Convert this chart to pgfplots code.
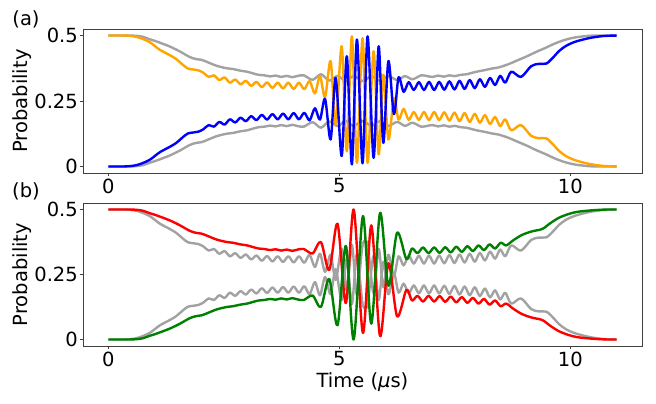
\documentclass[border=0pt]{standalone}
\usepackage{fontspec}
\setmainfont{DejaVu Sans}
\usepackage{pgfplots}
\usepackage{pgfplotstable}
\pgfplotsset{compat=1.18}
\definecolor{cgrey}{RGB}{162,162,162}
\definecolor{corange}{RGB}{255,165,0}
\definecolor{cblue}{RGB}{0,0,255}
\definecolor{cred}{RGB}{255,0,0}
\definecolor{cgreen}{RGB}{0,128,0}
% panel (a): blue B, orange O; grey curves of panel (b): GU, GL
\pgfplotstableread{
t B O GU GL
0.00 0.000 0.500 0.500 0.000
0.35 0.000 0.500 0.500 0.000
0.55 0.003 0.497 0.497 0.003
0.70 0.010 0.490 0.490 0.010
0.90 0.026 0.474 0.474 0.026
1.11 0.054 0.446 0.446 0.054
1.33 0.075 0.425 0.425 0.075
1.47 0.090 0.410 0.410 0.090
1.60 0.110 0.390 0.390 0.110
1.72 0.126 0.374 0.374 0.126
1.85 0.130 0.370 0.370 0.130
1.95 0.133 0.367 0.367 0.133
2.055 0.142 0.358 0.358 0.142
2.17 0.158 0.342 0.342 0.158
2.285 0.152 0.348 0.348 0.152
2.40 0.170 0.330 0.330 0.170
2.515 0.160 0.340 0.340 0.160
2.63 0.180 0.320 0.320 0.180
2.745 0.168 0.332 0.332 0.168
2.86 0.186 0.314 0.314 0.186
2.975 0.173 0.327 0.327 0.173
3.09 0.192 0.308 0.308 0.192
3.205 0.177 0.323 0.323 0.177
3.32 0.197 0.303 0.303 0.197
3.435 0.179 0.321 0.321 0.179
3.55 0.200 0.300 0.300 0.200
3.665 0.180 0.320 0.320 0.180
3.78 0.202 0.298 0.298 0.202
3.895 0.180 0.320 0.320 0.180
4.01 0.204 0.296 0.296 0.204
4.125 0.180 0.320 0.320 0.180
4.24 0.205 0.295 0.295 0.205
4.355 0.176 0.326 0.326 0.174
4.47 0.222 0.279 0.279 0.221
4.58 0.179 0.345 0.330 0.170
4.69 0.258 0.265 0.260 0.240
4.81 0.103 0.402 0.326 0.174
4.92 0.338 0.160 0.229 0.271
5.05 0.040 0.459 0.349 0.151
5.16 0.421 0.058 0.188 0.312
5.27 0.008 0.497 0.364 0.136
5.38 0.485 0.014 0.171 0.329
5.50 0.012 0.490 0.361 0.139
5.61 0.497 0.014 0.364 0.136
5.74 0.033 0.440 0.178 0.322
5.85 0.459 0.046 0.349 0.151
5.95 0.090 0.350 0.201 0.299
6.06 0.402 0.103 0.326 0.174
6.18 0.200 0.260 0.245 0.255
6.28 0.340 0.179 0.320 0.180
6.39 0.285 0.220 0.285 0.215
6.50 0.322 0.178 0.322 0.178
6.61 0.292 0.208 0.292 0.208
6.72 0.322 0.178 0.322 0.178
6.83 0.292 0.208 0.292 0.208
6.94 0.323 0.177 0.323 0.177
7.05 0.292 0.208 0.292 0.208
7.16 0.323 0.177 0.323 0.177
7.27 0.293 0.207 0.293 0.207
7.38 0.325 0.175 0.325 0.175
7.49 0.294 0.206 0.294 0.206
7.60 0.327 0.173 0.327 0.173
7.71 0.296 0.204 0.296 0.204
7.82 0.330 0.170 0.330 0.170
7.93 0.299 0.201 0.299 0.201
8.04 0.333 0.167 0.333 0.167
8.15 0.304 0.196 0.304 0.196
8.26 0.338 0.162 0.338 0.162
8.37 0.311 0.189 0.311 0.189
8.48 0.346 0.154 0.346 0.154
8.59 0.320 0.180 0.320 0.180
8.72 0.362 0.138 0.362 0.138
8.93 0.342 0.158 0.342 0.158
9.15 0.383 0.117 0.383 0.117
9.32 0.392 0.108 0.392 0.108
9.48 0.393 0.107 0.393 0.107
9.62 0.415 0.085 0.415 0.085
9.75 0.440 0.060 0.440 0.060
9.90 0.460 0.040 0.460 0.040
10.10 0.476 0.024 0.476 0.024
10.40 0.490 0.010 0.490 0.010
10.70 0.498 0.002 0.498 0.002
11.00 0.500 0.000 0.500 0.000
}\tabA
% panel (b): red R, green G
\pgfplotstableread{
t R G
0.00 0.500 0.000
0.40 0.500 0.000
0.60 0.499 0.001
0.75 0.495 0.005
0.89 0.486 0.014
1.00 0.480 0.020
1.11 0.473 0.027
1.33 0.458 0.042
1.55 0.439 0.061
1.76 0.418 0.082
1.90 0.410 0.090
2.02 0.407 0.093
2.15 0.398 0.102
2.35 0.384 0.116
2.56 0.375 0.125
2.70 0.372 0.128
2.85 0.366 0.134
3.00 0.362 0.138
3.12 0.356 0.144
3.25 0.350 0.150
3.38 0.348 0.152
3.50 0.344 0.156
3.62 0.347 0.153
3.74 0.342 0.158
3.86 0.346 0.154
3.98 0.341 0.159
4.10 0.346 0.154
4.23 0.348 0.152
4.42 0.331 0.169
4.60 0.375 0.125
4.78 0.267 0.233
4.96 0.445 0.055
5.14 0.140 0.360
5.31 0.500 0.000
5.51 0.025 0.475
5.69 0.439 0.061
5.88 0.013 0.487
6.06 0.293 0.207
6.25 0.089 0.411
6.45 0.191 0.309
6.57 0.150 0.350
6.69 0.168 0.332
6.81 0.146 0.354
6.93 0.168 0.332
7.05 0.146 0.354
7.17 0.167 0.333
7.29 0.145 0.355
7.41 0.165 0.335
7.53 0.143 0.357
7.65 0.163 0.337
7.77 0.141 0.359
7.89 0.160 0.340
8.01 0.138 0.362
8.13 0.156 0.344
8.25 0.134 0.366
8.37 0.150 0.350
8.49 0.128 0.372
8.61 0.138 0.362
8.75 0.120 0.380
8.95 0.098 0.402
9.17 0.084 0.416
9.39 0.075 0.425
9.57 0.052 0.448
9.75 0.032 0.468
9.95 0.018 0.482
10.15 0.009 0.491
10.48 0.003 0.497
10.80 0.000 0.500
11.00 0.000 0.500
}\tabB
% grey curves of panel (a)
\pgfplotstableread{
t U L
0.00 0.500 0.000
0.40 0.500 0.000
0.60 0.499 0.001
0.75 0.495 0.005
0.89 0.486 0.014
1.00 0.480 0.020
1.11 0.473 0.027
1.33 0.458 0.042
1.55 0.439 0.061
1.76 0.418 0.082
1.90 0.410 0.090
2.02 0.407 0.093
2.15 0.398 0.102
2.35 0.384 0.116
2.56 0.375 0.125
2.70 0.372 0.128
2.85 0.366 0.134
3.00 0.362 0.138
3.12 0.356 0.144
3.25 0.350 0.150
3.38 0.348 0.152
3.50 0.344 0.156
3.62 0.347 0.153
3.74 0.342 0.158
3.86 0.346 0.154
3.98 0.341 0.159
4.10 0.346 0.154
4.23 0.348 0.152
4.42 0.331 0.169
4.60 0.352 0.148
4.78 0.328 0.172
4.96 0.346 0.154
5.14 0.326 0.174
5.31 0.345 0.155
5.51 0.326 0.174
5.69 0.345 0.155
5.88 0.327 0.173
6.06 0.345 0.155
6.25 0.330 0.170
6.42 0.345 0.155
6.58 0.333 0.167
6.77 0.348 0.152
6.90 0.345 0.155
7.02 0.342 0.158
7.14 0.347 0.153
7.26 0.343 0.157
7.38 0.348 0.152
7.50 0.345 0.155
7.62 0.350 0.150
7.75 0.352 0.148
7.88 0.358 0.142
8.00 0.363 0.137
8.15 0.368 0.132
8.30 0.374 0.126
8.44 0.378 0.122
8.65 0.390 0.110
8.85 0.405 0.095
9.05 0.420 0.080
9.24 0.436 0.064
9.45 0.452 0.048
9.67 0.470 0.030
9.89 0.484 0.016
10.11 0.493 0.007
10.40 0.499 0.001
10.60 0.500 0.000
11.00 0.500 0.000
}\tabGA
\newcommand{\fs}{\fontsize{19.5}{23}\selectfont}
\pgfplotsset{
  myaxis/.style={
    scale only axis, width=559pt,
    xmin=-0.55, xmax=11.55, ymin=-0.025, ymax=0.525,
    xtick={0,5,10}, xticklabels={0,5,10},
    ytick={0,0.25,0.5}, yticklabels={0,0.25,0.5},
    tick align=outside, xtick pos=bottom, ytick pos=left,
    major tick length=3.5pt,
    tick style={black!75, line width=0.9pt},
    axis line style={black!75, line width=0.9pt},
    /pgf/number format/assume math mode=true,
    tick label style={font=\fs},
    label style={font=\fs},
    yticklabel style={inner sep=1.5pt},
    xticklabel style={inner sep=2pt},
    ylabel={Probability},
    ylabel style={at={(axis description cs:-0.109,0.5)}, anchor=center},
    clip=false,
    every axis plot/.append style={line width=2.4pt, smooth, line join=round},
  }
}
\begin{document}
\begin{tikzpicture}
\useasboundingbox (0,0) rectangle (656pt,404pt);
\begin{axis}[myaxis, at={(83pt,231pt)}, anchor=south west, height=144pt]
\addplot[cgrey] table[x=t,y=U]{\tabGA};
\addplot[cgrey] table[x=t,y=L]{\tabGA};
\addplot[corange] table[x=t,y=O]{\tabA};
\addplot[cblue] table[x=t,y=B]{\tabA};
\node[font=\fs] at (axis description cs:-0.102,1.069) {(a)};
\end{axis}
\begin{axis}[myaxis, at={(83pt,58pt)}, anchor=south west, height=143pt,
  xlabel={Time ({\itshape μ}s)},
  xlabel style={at={(axis description cs:0.5,0)}, anchor=north, yshift=-26pt, inner sep=0pt}]
\addplot[cgrey] table[x=t,y=GU]{\tabA};
\addplot[cgrey] table[x=t,y=GL]{\tabA};
\addplot[cred] table[x=t,y=R]{\tabB};
\addplot[cgreen] table[x=t,y=G]{\tabB};
\node[font=\fs] at (axis description cs:-0.102,1.080) {(b)};
\end{axis}
\end{tikzpicture}
\end{document}
